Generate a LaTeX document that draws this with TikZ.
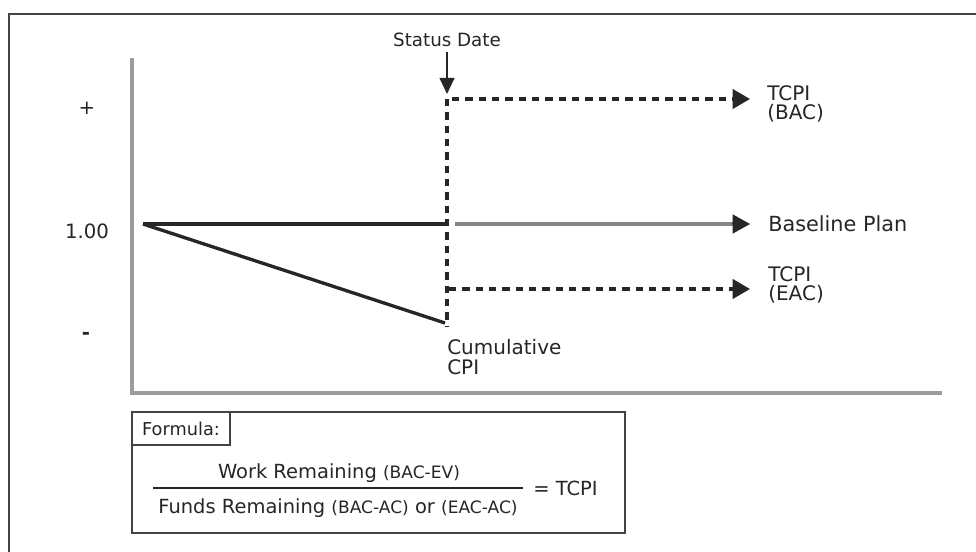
\documentclass[tikz,border=0pt]{standalone}
\usepackage{fontspec}
\setmainfont{DejaVu Sans}
\usetikzlibrary{arrows.meta}
\definecolor{ink}{HTML}{262626}
\definecolor{txt}{HTML}{262626}
\definecolor{axisgray}{HTML}{9C9C9C}
\definecolor{basegray}{HTML}{858585}
\definecolor{framec}{HTML}{464146}
\begin{document}
\begin{tikzpicture}[x=0.75pt,y=-0.75pt,
  lbl/.style={text=txt, inner sep=0pt, align=left, font=\fontsize{15}{14.5}\selectfont},
  axlbl/.style={text=txt, inner sep=0pt, font=\fontsize{14.8}{16}\selectfont},
  fml/.style={text=txt, inner sep=0pt, font=\fontsize{14.6}{18}\selectfont},
  tipbig/.style={-{Triangle[length=13pt,width=14.5pt]}},
  dsh/.style={ink, line width=2.3pt, dash pattern=on 5.5pt off 4.5pt},
  solidln/.style={ink, line width=2.5pt},
]
\newcommand{\pfont}{\fontsize{12.8}{14}\selectfont}
\useasboundingbox (0,0) rectangle (976,552);
\fill[white] (0,0) rectangle (976,552);
% outer frame
\draw[framec, line width=1.8pt] (9,552) -- (9,14) -- (976,14);
% axes
\draw[axisgray, line width=2.6pt] (132,58) -- (132,393) -- (942,393);
% axis labels
\node[axlbl] (plus) at (87,108) {+};
\node[axlbl] (one) at (87,231) {1.00};
\node[axlbl, font=\bfseries\fontsize{14.8}{16}\selectfont] (minus) at (86,336) {-};
% key points
\coordinate (o) at (143,224);
\coordinate (sdb) at (449,224);
\coordinate (sdtop) at (447,99);
\coordinate (cpiend) at (447,326);
\coordinate (diagend) at (445,323);
\coordinate (sdeac) at (449,289);
\coordinate (bacend) at (750,99);
\coordinate (bplend) at (750,224);
\coordinate (eacend) at (750,289);
\coordinate (sdarrow) at (447,94);
% labels
\node[lbl, font=\fontsize{13.7}{15}\selectfont] (sd) at (447,40) {Status Date};
\node[lbl, anchor=west] (bac) at (767,104) {TCPI\\(BAC)};
\node[lbl, anchor=west, font=\fontsize{15.6}{15}\selectfont] (bpl) at (768,224) {Baseline Plan};
\node[lbl, anchor=west] (eac) at (768,285) {TCPI\\(EAC)};
\node[lbl, anchor=west] (cpi) at (447,357) {Cumulative\\CPI};
% status date arrow
\draw[ink, line width=1.5pt, -{Triangle[length=12pt,width=11pt]}] (sd.south) ++(0,5) -- (sdarrow);
% lines
\draw[solidln] (o) -- (sdb);
\draw[solidln] (o) -- (diagend);
\draw[basegray, line width=2.5pt] (455,224) -- (740,224);
\draw[ink, line width=0pt, tipbig] (733,224) -- (bplend);
\draw[dsh] (sdtop) -- (cpiend);
\draw[dsh, tipbig] (452,99) -- (bacend);
\draw[dsh, tipbig] (sdeac) -- (eacend);
% formula box
\draw[framec, line width=1.6pt] (132,412) rectangle (625,533);
\draw[framec, line width=1.6pt] (230,412) -- (230,445) -- (132,445);
\node[text=txt, inner sep=0pt, font=\fontsize{13.3}{14}\selectfont] (flab) at (181,429) {Formula:};
\coordinate (fl) at (153,488);
\coordinate (fr) at (523,488);
\draw[ink, line width=1.3pt] (fl) -- (fr);
\node[fml] (num) at (339,473) {Work Remaining {\pfont(BAC-EV)}};
\node[fml] (den) at (338,508) {Funds Remaining {\pfont(BAC-AC)} or {\pfont(EAC-AC)}};
\node[fml, anchor=west] (eq) at (533,488) {= TCPI};
\end{tikzpicture}
\end{document}
